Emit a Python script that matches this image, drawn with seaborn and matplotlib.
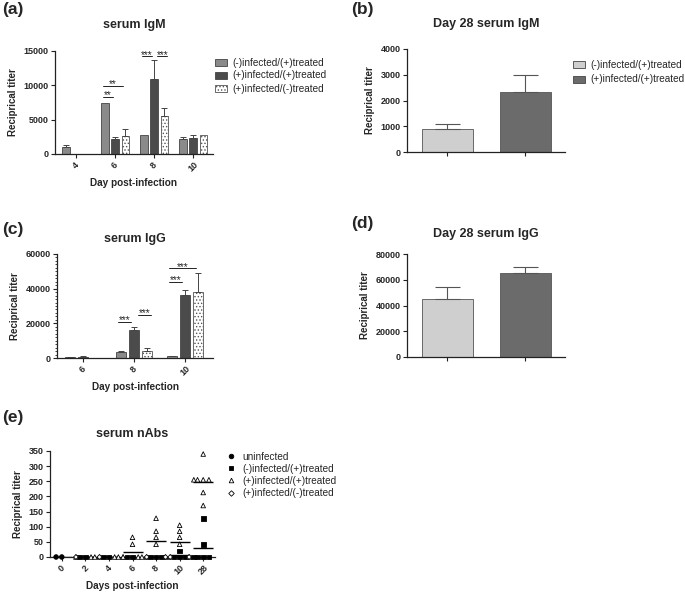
import numpy as np
import pandas as pd
import matplotlib
matplotlib.use("Agg")
import matplotlib.pyplot as plt
from matplotlib.patches import Patch
from matplotlib.lines import Line2D
from matplotlib.markers import MarkerStyle
from matplotlib.ticker import MultipleLocator
import seaborn as sns

# ---- data ----
groups3 = ["(-)infected/(+)treated", "(+)infected/(+)treated", "(+)infected/(-)treated"]
groups2 = groups3[:2]

# (a) serum IgM by day
igm_days = ["4", "6", "8", "10"]
igm_neg_pos = [1050, 7350, 2700, 2200]
igm_pos_pos = [0, 2200, 10900, 2350]
igm_pos_neg = [0, 2600, 5500, 2700]
igm_err_neg_pos = [280, np.nan, np.nan, 330]
igm_err_pos_pos = [np.nan, 250, 2700, 400]
igm_err_pos_neg = [np.nan, 1000, 1150, np.nan]
igm_sig = [("6", 0, 1, 8300, "**"), ("6", 0, 2, 9900, "**"),
           ("8", 0, 1, 14200, "***"), ("8", 1, 2, 14200, "***")]

# (b) day 28 serum IgM
igm28 = [890, 2320]
igm28_err = [210, 670]

# (c) serum IgG by day
igg_days = ["6", "8", "10"]
igg_neg_pos = [300, 3500, 1000]
igg_pos_pos = [700, 16000, 36500]
igg_pos_neg = [0, 4300, 38000]
igg_err_neg_pos = [100, 400, 200]
igg_err_pos_pos = [200, 1800, 2500]
igg_err_pos_neg = [np.nan, 1200, 11000]
igg_sig = [("8", 0, 1, 21000, "***"), ("8", 1, 2, 25000, "***"),
           ("10", 0, 1, 44000, "***"), ("10", 0, 2, 51700, "***")]

# (d) day 28 serum IgG
igg28 = [44700, 64900]
igg28_err = [9500, 5000]

# (e) neutralising antibodies, individual animals per day
nab_days = ["0", "2", "4", "6", "8", "10", "28"]
nab_groups = ["uninfected"] + groups3
nab_uninf = [[0, 0], [], [], [], [], [], []]
nab_neg_pos = [[], [0, 0], [0, 0], [0, 0], [0, 0, 0], [20, 0, 0, 0], [128, 42, 0, 0, 0, 0]]
nab_pos_pos = [[], [0, 0, 0], [0, 0, 0], [65, 42, 0, 0, 0, 0], [128, 85, 65, 42, 0, 0],
               [105, 85, 65, 42, 0, 0], [340, 255, 255, 255, 255, 213, 170]]
nab_pos_neg = [[], [0], [0], [], [0, 0], [0, 0], []]

# ---- style ----
sns.set_style("ticks")
plt.rcParams["font.family"] = ["Liberation Sans", "DejaVu Sans"]
plt.rcParams["hatch.linewidth"] = 0.6
plt.rcParams["hatch.color"] = "#555555"

bar_cols = ["#8a8a8a", "#4b4b4b", "#ffffff"]
bar_hatch = [None, None, "....."]
day28_cols = ["#cfcfcf", "#6b6b6b"]
edge = "#444444"

W, H = 685, 597
fig = plt.figure(figsize=(W / 100, H / 100), dpi=100)


def add_ax(left, top, right, bottom):
    return fig.add_axes([left / W, 1 - bottom / H, (right - left) / W, (bottom - top) / H])


def style(ax, title, pad, xlabel=None, rotate=True):
    sns.despine(ax=ax)
    for s in ["left", "bottom"]:
        ax.spines[s].set_linewidth(0.9)
        ax.spines[s].set_color("#222222")
    ax.tick_params(length=3, width=0.8, labelsize=6.5, pad=1.5, color="#222222")
    ax.tick_params(axis="y", which="minor", length=1.8, width=0.6)
    if rotate:
        ax.tick_params(axis="x", labelrotation=45)
    for lab in ax.get_xticklabels() + ax.get_yticklabels():
        lab.set_fontweight("bold")
    ax.set_title(title, fontsize=9, fontweight="bold", pad=pad)
    ax.set_ylabel("Reciprical titer", fontsize=7, fontweight="bold")
    ax.set_xlabel(xlabel if xlabel else "", fontsize=7.2, fontweight="bold", labelpad=3)


def grouped_bars(ax, days, vals, errs, sig):
    rows = []
    for g, v in zip(groups3, vals):
        for d, x in zip(days, v):
            rows.append((d, g, x))
    df = pd.DataFrame(rows, columns=["day", "group", "titer"])
    sns.barplot(data=df, x="day", y="titer", hue="group", order=days, hue_order=groups3,
                palette=bar_cols, width=0.78, gap=0.27, errorbar=None,
                edgecolor=edge, linewidth=0.6, legend=False, ax=ax)
    conts = list(ax.containers)
    centers = []
    for hi, cont in enumerate(conts):
        bars = sorted(cont.patches, key=lambda p: p.get_x())
        xs = np.array([b.get_x() + b.get_width() / 2 for b in bars])
        ys = np.array([b.get_height() for b in bars])
        e = np.array(errs[hi], dtype=float)
        m = ~np.isnan(e)
        ax.errorbar(xs[m], ys[m], yerr=[np.zeros(m.sum()), e[m]], fmt="none",
                    ecolor=edge, elinewidth=0.7, capsize=2, capthick=0.7)
        if bar_hatch[hi]:
            for b in bars:
                b.set_hatch(bar_hatch[hi])
                b.set_edgecolor("#555555")
        centers.append(xs)
    for d, g1, g2, y, txt in sig:
        i = days.index(d)
        # comparisons starting at the first bar sit a little left, the others a little right
        shift = -0.05 if g1 == 0 else 0.08
        x1, x2 = centers[g1][i] + shift, centers[g2][i] + shift
        ax.plot([x1, x2], [y, y], color="#222222", lw=0.7)
        ax.annotate(txt, ((x1 + x2) / 2, y), xytext=(0, -1.0), textcoords="offset points",
                    ha="center", va="baseline", fontsize=7.2)


def single_bars(ax, vals, errs):
    sns.barplot(x=groups2, y=vals, hue=groups2, palette=day28_cols, width=0.65,
                edgecolor="#555555", linewidth=0.6, legend=False, ax=ax)
    bars = sorted(ax.patches, key=lambda p: p.get_x())
    xs = [b.get_x() + b.get_width() / 2 for b in bars]
    ys = [b.get_height() for b in bars]
    ax.errorbar(xs, ys, yerr=[np.zeros(len(errs)), errs], fmt="none",
                ecolor="#555555", elinewidth=0.8, capsize=9, capthick=0.8)
    ax.set_xticks(xs)
    ax.set_xticklabels([])


def bar_legend(ax, labels, cols, hatches, x, y, spacing):
    hs = [Patch(facecolor=c, edgecolor=edge if not h else "#555555", hatch=h, linewidth=0.6)
          for c, h in zip(cols, hatches)]
    ax.legend(hs, labels, loc="upper left", bbox_to_anchor=(x / W, 1 - y / H),
              bbox_transform=fig.transFigure, frameon=False, fontsize=7.2,
              handlelength=1.2, handleheight=0.7, handletextpad=0.5,
              labelspacing=spacing, borderpad=0, borderaxespad=0)


# (a)
ax_a = add_ax(55, 50.7, 213, 154)
grouped_bars(ax_a, igm_days, [igm_neg_pos, igm_pos_pos, igm_pos_neg],
             [igm_err_neg_pos, igm_err_pos_pos, igm_err_pos_neg], igm_sig)
ax_a.set_ylim(0, 15000)
ax_a.set_yticks(np.arange(0, 15001, 5000))
ax_a.set_xlim(-0.54, 3.51)
style(ax_a, "serum IgM", 16.5, "Day post-infection")
bar_legend(ax_a, groups3, bar_cols, bar_hatch, 215, 57.5, 0.3)

# (b)
ax_b = add_ax(407, 49, 565, 152)
single_bars(ax_b, igm28, igm28_err)
ax_b.set_ylim(0, 4000)
ax_b.set_yticks(np.arange(0, 4001, 1000))
ax_b.set_xlim(-0.52, 1.51)
style(ax_b, "Day 28 serum IgM", 15.5, rotate=False)
bar_legend(ax_b, groups2, day28_cols, [None, None], 573, 60, 0.45)

# (c)
ax_c = add_ax(57, 254, 213, 358)
grouped_bars(ax_c, igg_days, [igg_neg_pos, igg_pos_pos, igg_pos_neg],
             [igg_err_neg_pos, igg_err_pos_pos, igg_err_pos_neg], igg_sig)
ax_c.set_ylim(0, 60000)
ax_c.set_yticks(np.arange(0, 60001, 20000))
ax_c.yaxis.set_minor_locator(MultipleLocator(2000))
ax_c.set_xlim(-0.51, 2.55)
style(ax_c, "serum IgG", 8.5, "Day post-infection")

# (d)
ax_d = add_ax(407, 254, 565, 357)
single_bars(ax_d, igg28, igg28_err)
ax_d.set_ylim(0, 80000)
ax_d.set_yticks(np.arange(0, 80001, 20000))
ax_d.set_xlim(-0.52, 1.51)
style(ax_d, "Day 28 serum IgG", 12, rotate=False)

# (e)
rows = []
for g, per_day in zip(nab_groups, [nab_uninf, nab_neg_pos, nab_pos_pos, nab_pos_neg]):
    for d, vals in zip(nab_days, per_day):
        for v in vals:
            rows.append((d, g, v))
nab_df = pd.DataFrame(rows, columns=["day", "group", "titer"])

ax_e = add_ax(50, 451, 215, 557)
sns.swarmplot(data=nab_df, x="day", y="titer", hue="group", order=nab_days,
              hue_order=nab_groups, palette=["black"] * 4, size=3.3, linewidth=0.6,
              edgecolor="black", legend=False, ax=ax_e)
nab_marker = {"uninfected": "o", groups3[0]: "s", groups3[1]: "^", groups3[2]: "D"}
nab_face = {"uninfected": "black", groups3[0]: "black", groups3[1]: "white", groups3[2]: "white"}
paths = {}
for g, mk in nab_marker.items():
    ms = MarkerStyle(mk)
    p = ms.get_path().transformed(ms.get_transform())
    if mk == "D":
        p = p.transformed(matplotlib.transforms.Affine2D().scale(0.75))
    paths[g] = p
for i, d in enumerate(nab_days):
    coll = ax_e.collections[i]
    sub = nab_df[nab_df["day"] == d]
    coll.set_paths([paths[g] for g in sub["group"]])
    coll.set_facecolors([nab_face[g] for g in sub["group"]])
    coll.set_edgecolors("black")
    coll.set_clip_on(False)
sns.pointplot(data=nab_df, x="day", y="titer", hue="group", order=nab_days,
              hue_order=nab_groups, palette=["black"] * 4, markers="_", linestyle="none",
              errorbar=None, dodge=False, markersize=15, markeredgewidth=1.0,
              legend=False, ax=ax_e)
ax_e.set_ylim(0, 350)
ax_e.set_yticks(np.arange(0, 351, 50))
ax_e.set_xlim(-0.5, 6.5)
style(ax_e, "serum nAbs", 10, "Days post-infection")
nab_handles = [Line2D([], [], ls="none", marker=nab_marker[g], markersize=3.3 if g != groups3[2] else 2.8,
                      markerfacecolor=nab_face[g], markeredgecolor="black", markeredgewidth=0.6)
               for g in nab_groups]
ax_e.legend(nab_handles, nab_groups, loc="upper left", bbox_to_anchor=(226 / W, 1 - 451.5 / H),
            bbox_transform=fig.transFigure, frameon=False, fontsize=7.2, handlelength=1.0,
            handletextpad=0.6, labelspacing=0.22, borderpad=0, borderaxespad=0)

# panel letters
for txt, x, y in [("(a)", 2, 2), ("(b)", 351, 2), ("(c)", 2, 222), ("(d)", 351, 216), ("(e)", 2, 410)]:
    fig.text(x / W, 1 - y / H, txt, fontsize=12.5, fontweight="bold", va="top", ha="left")

fig.savefig("out.png", dpi=100)
